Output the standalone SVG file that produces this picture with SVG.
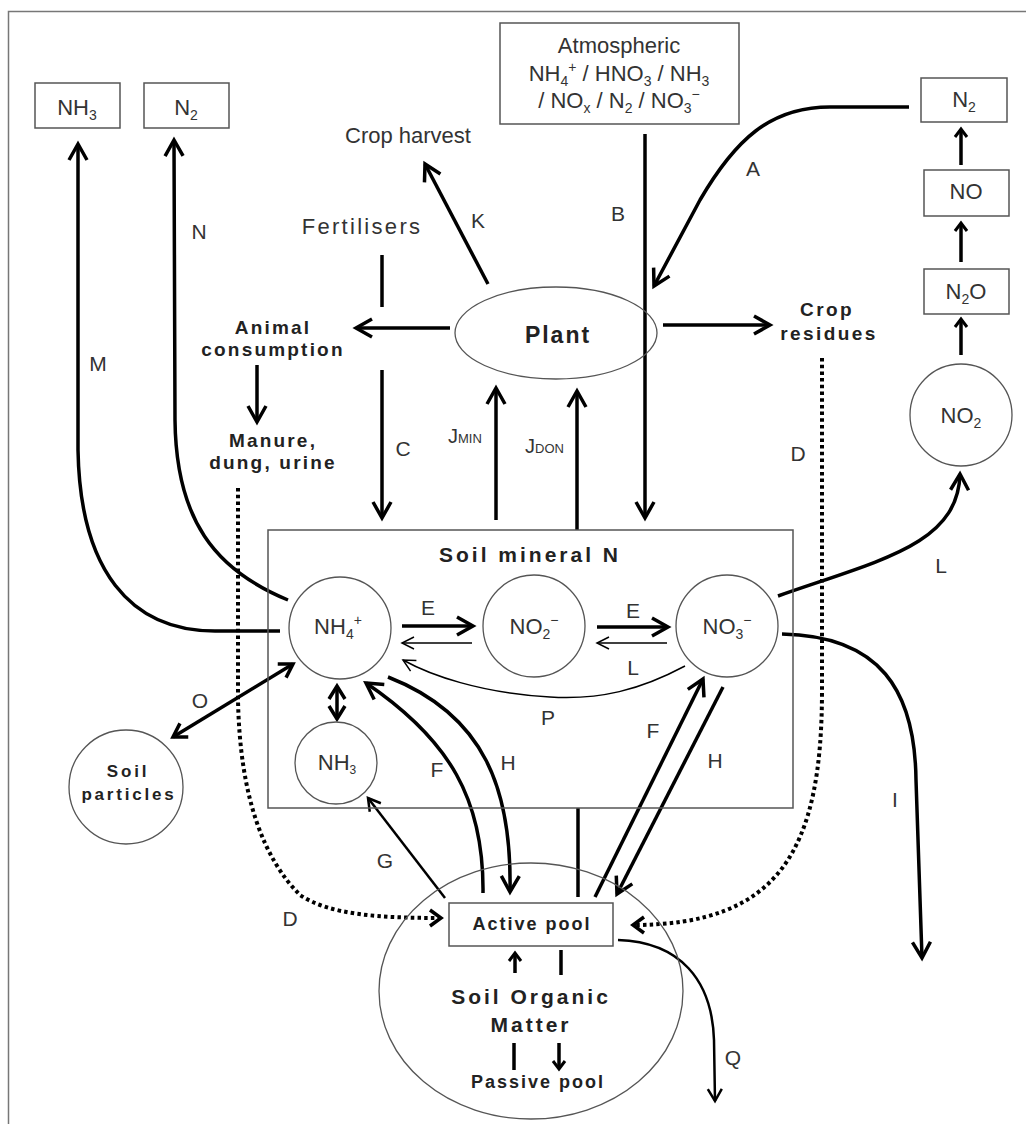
<svg xmlns="http://www.w3.org/2000/svg" width="1026" height="1124" viewBox="0 0 1026 1124">
<style>
text{font-family:"Liberation Sans",Arial,sans-serif;fill:#333}
.lbl{font-size:21px;text-anchor:middle}
.chem{font-size:22px;text-anchor:middle}
.bold{font-weight:bold;text-anchor:middle;fill:#222}
.box{fill:none;stroke:#555;stroke-width:1.5}
.circ{fill:none;stroke:#555;stroke-width:1.3}
.thick{fill:none;stroke:#000;stroke-width:3.5}
.thin{fill:none;stroke:#000;stroke-width:1.5}
.med{fill:none;stroke:#000;stroke-width:2.5}
.dot{fill:none;stroke:#000;stroke-width:4;stroke-dasharray:3.5 3.2}
</style>
<defs>
<marker id="ah" markerUnits="userSpaceOnUse" orient="auto" refX="0" refY="0" markerWidth="40" markerHeight="40" overflow="visible"><path d="M-16,-9 L0,0 L-16,9" fill="none" stroke="#000" stroke-width="3.5"/></marker>
<marker id="ahr" markerUnits="userSpaceOnUse" orient="auto-start-reverse" refX="0" refY="0" markerWidth="40" markerHeight="40" overflow="visible"><path d="M-13,-8 L0,0 L-13,8" fill="none" stroke="#000" stroke-width="3.5"/></marker>
<marker id="ahs" markerUnits="userSpaceOnUse" orient="auto" refX="0" refY="0" markerWidth="40" markerHeight="40" overflow="visible"><path d="M-12,-6 L0,0 L-12,6" fill="none" stroke="#000" stroke-width="1.5"/></marker>
<marker id="ahm" markerUnits="userSpaceOnUse" orient="auto" refX="0" refY="0" markerWidth="40" markerHeight="40" overflow="visible"><path d="M-12,-7 L0,0 L-12,7" fill="none" stroke="#000" stroke-width="2.5"/></marker>
<marker id="ahd" markerUnits="userSpaceOnUse" orient="auto" refX="0" refY="0" markerWidth="40" markerHeight="40" overflow="visible"><path d="M-11,-8 L0,0 L-11,8" fill="none" stroke="#000" stroke-width="3.5"/></marker>
<marker id="ahk" markerUnits="userSpaceOnUse" orient="auto" refX="0" refY="0" markerWidth="40" markerHeight="40" overflow="visible"><path d="M-8,-6 L0,0 L-8,6" fill="none" stroke="#000" stroke-width="3"/></marker>
</defs>
<rect width="1026" height="1124" fill="#fff"/>
<rect x="8.5" y="11.5" width="1100" height="1200" fill="none" stroke="#777" stroke-width="1.5"/>

<g id="connectors">
<path class="thick" d="M280,631 H215 C130,631 80,570 78,450 L78,144" marker-end="url(#ah)"/>
<path class="thick" d="M288,600 C215,570 176,520 175,420 L174,140" marker-end="url(#ah)"/>
<path class="thick" d="M488,284 L425,164" marker-end="url(#ah)"/>
<path class="thick" d="M645,134 L645,518" marker-end="url(#ah)"/>
<path class="thick" d="M909,107 H830 C770,107 735,140 700,200 L654,286" marker-end="url(#ah)"/>
<path class="thick" d="M450,328 L356,328" marker-end="url(#ah)"/>
<path class="thick" d="M663,325 L770,325" marker-end="url(#ah)"/>
<path class="thick" d="M257,365 L257,422" marker-end="url(#ah)"/>
<path class="thick" d="M382,255 L382,307"/>
<path class="thick" d="M382,370 L382,518" marker-end="url(#ah)"/>
<path class="thick" d="M496,520 L496,388" marker-end="url(#ah)"/>
<path class="thick" d="M577,530 L577,391" marker-end="url(#ah)"/>
<path class="dot" d="M238,488 L238,700 C240,800 265,860 300,895 C330,915 380,918 441,918" marker-end="url(#ahd)"/>
<path class="dot" d="M822,358 L822,690 C822,850 780,925 633,925" marker-end="url(#ahd)"/>
<path class="thick" d="M961,355 L961,319" marker-end="url(#ahk)"/>
<path class="thick" d="M961,262 L961,223" marker-end="url(#ahk)"/>
<path class="thick" d="M961,165 L961,129" marker-end="url(#ahk)"/>
<path class="thick" d="M402,626 L473,626" marker-end="url(#ah)"/>
<path class="thin" d="M472,643 L402,643" marker-end="url(#ahs)"/>
<path class="thick" d="M597,627 L668,627" marker-end="url(#ah)"/>
<path class="thin" d="M667,643 L597,643" marker-end="url(#ahs)"/>
<path class="thin" d="M685,666 C640,690 600,700 550,697 C480,693 430,675 403,660" marker-end="url(#ahs)"/>
<path class="thick" d="M337,686 L337,719" stroke-width="3" marker-start="url(#ahr)" marker-end="url(#ahr)"/>
<path class="thick" d="M293,664 L173,737" marker-start="url(#ahr)" marker-end="url(#ahr)"/>
<path class="thick" d="M778,596 C880,560 958,545 960,474" marker-end="url(#ah)"/>
<path class="thick" d="M782,634 C880,636 915,690 916,780 L922,958" marker-end="url(#ah)"/>
<path class="thick" d="M483,893 C484,800 450,740 366,683" marker-end="url(#ah)"/>
<path class="thick" d="M388,677 C485,715 512,790 510,892" marker-end="url(#ah)"/>
<path class="thick" d="M595,897 L703,679" marker-end="url(#ah)"/>
<path class="thick" d="M723,687 L617,894" marker-end="url(#ah)"/>
<path class="thick" d="M578,808 L578,897"/>
<path class="med" d="M445,898 L368,798" marker-end="url(#ahm)"/>
<path class="thick" d="M515,973 L515,953" stroke-width="3" marker-end="url(#ahk)"/>
<path class="thick" d="M561,950 L561,975" stroke-width="3"/>
<path class="thick" d="M514,1043 L514,1070" stroke-width="3"/>
<path class="thick" d="M559,1043 L559,1069" stroke-width="3" marker-end="url(#ahk)"/>
<path class="med" d="M618,940 C680,942 712,980 714,1040 L715,1101" stroke-width="2" marker-end="url(#ahm)"/>
</g>

<g id="node-nh3-top"><rect class="box" x="35" y="83" width="85" height="45"/><text class="chem" x="77" y="115">NH<tspan font-size="14" baseline-shift="-5">3</tspan></text></g>
<g id="node-n2-top"><rect class="box" x="144" y="83" width="85" height="45"/><text class="chem" x="186" y="115">N<tspan font-size="14" baseline-shift="-5">2</tspan></text></g>
<g id="node-atmos"><rect class="box" x="500" y="23" width="239" height="101"/>
<text class="chem" x="619" y="53" font-size="23">Atmospheric</text>
<text class="chem" x="619" y="81" font-size="23">NH<tspan font-size="14" baseline-shift="-5">4</tspan><tspan font-size="14" baseline-shift="9">+</tspan> / HNO<tspan font-size="14" baseline-shift="-5">3</tspan> / NH<tspan font-size="14" baseline-shift="-5">3</tspan></text>
<text class="chem" x="619" y="108" font-size="23">/ NO<tspan font-size="14" baseline-shift="-5">x</tspan> / N<tspan font-size="14" baseline-shift="-5">2</tspan> / NO<tspan font-size="14" baseline-shift="-5">3</tspan><tspan font-size="14" baseline-shift="9">−</tspan></text></g>
<g id="node-n2-right"><rect class="box" x="921" y="78" width="86" height="44"/><text class="chem" x="964" y="107">N<tspan font-size="14" baseline-shift="-5">2</tspan></text></g>
<g id="node-no"><rect class="box" x="924" y="170" width="85" height="46"/><text class="chem" x="966" y="199">NO</text></g>
<g id="node-n2o"><rect class="box" x="924" y="269" width="85" height="45"/><text class="chem" x="966" y="299">N<tspan font-size="14" baseline-shift="-5">2</tspan>O</text></g>
<g id="node-no2-gas"><circle class="circ" cx="961" cy="415" r="51"/><text class="chem" x="961" y="423">NO<tspan font-size="14" baseline-shift="-5">2</tspan></text></g>

<g id="node-crop-harvest"><text x="408" y="143" font-size="22" text-anchor="middle">Crop harvest</text></g>
<g id="node-fertilisers"><text x="362" y="234" font-size="22" text-anchor="middle" letter-spacing="2.3">Fertilisers</text></g>
<g id="node-plant"><ellipse class="circ" cx="556" cy="333" rx="101" ry="46"/><text class="bold" x="558" y="343" font-size="23" letter-spacing="2">Plant</text></g>
<g id="node-animal"><text class="bold" x="273" y="334" font-size="19" letter-spacing="2.2">Animal</text><text class="bold" x="273" y="356" font-size="19" letter-spacing="2.2">consumption</text></g>
<g id="node-manure"><text class="bold" x="273" y="447" font-size="19" letter-spacing="2.2">Manure,</text><text class="bold" x="273" y="469" font-size="19" letter-spacing="2.2">dung, urine</text></g>
<g id="node-crop-residues"><text class="bold" x="827" y="316" font-size="19" letter-spacing="2.4">Crop</text><text class="bold" x="829" y="340" font-size="19" letter-spacing="2.4">residues</text></g>

<g id="node-soil-mineral"><rect class="box" x="268" y="530" width="525" height="278"/><text class="bold" x="530" y="562" font-size="21" letter-spacing="3">Soil mineral N</text></g>
<g id="node-nh4"><circle class="circ" cx="340" cy="628" r="51"/><text class="chem" x="338" y="634">NH<tspan font-size="14" baseline-shift="-5">4</tspan><tspan font-size="14" baseline-shift="9">+</tspan></text></g>
<g id="node-no2"><circle class="circ" cx="534" cy="626" r="51"/><text class="chem" x="534" y="634">NO<tspan font-size="14" baseline-shift="-5">2</tspan><tspan font-size="14" baseline-shift="9">−</tspan></text></g>
<g id="node-no3"><circle class="circ" cx="727" cy="626" r="51"/><text class="chem" x="727" y="634">NO<tspan font-size="14" baseline-shift="-5">3</tspan><tspan font-size="14" baseline-shift="9">−</tspan></text></g>
<g id="node-nh3-soil"><circle class="circ" cx="336" cy="763" r="41"/><text class="chem" x="337" y="770" font-size="18">NH<tspan font-size="12" baseline-shift="-4">3</tspan></text></g>
<g id="node-soil-particles"><circle class="circ" cx="126" cy="787" r="57"/><text class="bold" x="128" y="777" font-size="17" letter-spacing="2.8">Soil</text><text class="bold" x="129" y="800" font-size="17" letter-spacing="2.8">particles</text></g>

<g id="node-som"><ellipse class="circ" cx="531" cy="991" rx="152" ry="128"/>
<text class="bold" x="531" y="1004" font-size="21" letter-spacing="3">Soil Organic</text>
<text class="bold" x="531" y="1032" font-size="21" letter-spacing="3">Matter</text>
<text class="bold" x="538" y="1088" font-size="18" letter-spacing="2">Passive pool</text></g>
<g id="node-active-pool"><rect class="box" x="449" y="903" width="164" height="43" fill="#fff" style="fill:#fff"/><text class="bold" x="532" y="930" font-size="18" letter-spacing="2">Active pool</text></g>

<g id="labels">
<text class="lbl" x="753" y="176">A</text>
<text class="lbl" x="618" y="221">B</text>
<text class="lbl" x="478" y="228">K</text>
<text class="lbl" x="199" y="239">N</text>
<text class="lbl" x="98" y="371">M</text>
<text class="lbl" x="403" y="456">C</text>
<text x="448" y="443" font-size="20">J<tspan font-size="13">MIN</tspan></text>
<text x="525" y="453" font-size="20">J<tspan font-size="13">DON</tspan></text>
<text class="lbl" x="798" y="461">D</text>
<text class="lbl" x="941" y="573">L</text>
<text class="lbl" x="428" y="615">E</text>
<text class="lbl" x="633" y="618">E</text>
<text class="lbl" x="633" y="675">L</text>
<text class="lbl" x="548" y="725">P</text>
<text class="lbl" x="200" y="708">O</text>
<text class="lbl" x="437" y="777">F</text>
<text class="lbl" x="508" y="770">H</text>
<text class="lbl" x="653" y="738">F</text>
<text class="lbl" x="715" y="768">H</text>
<text class="lbl" x="895" y="807">I</text>
<text class="lbl" x="385" y="868">G</text>
<text class="lbl" x="290" y="926">D</text>
<text class="lbl" x="733" y="1065">Q</text>
</g>
</svg>
